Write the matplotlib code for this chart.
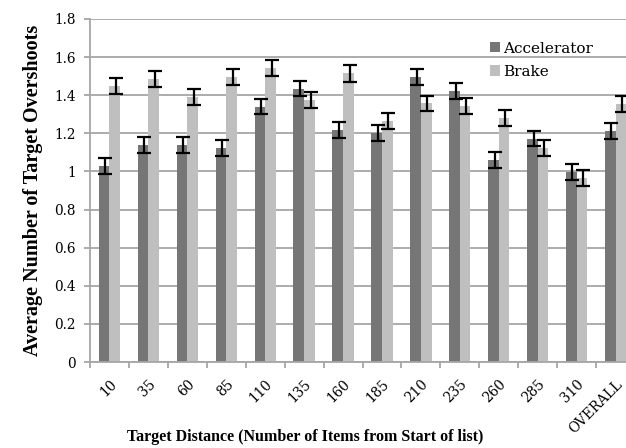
#!/usr/bin/env python3
# -*- coding: utf-8 -*-
"""
Average number of target overshoots per target distance,
accelerator vs brake, with error bars.
"""

import numpy as np
import matplotlib
matplotlib.use("Agg")
import matplotlib.pyplot as plt

# ------------------------------ data ---------------------------------------
categories = ["10", "35", "60", "85", "110", "135", "160", "185", "210",
              "235", "260", "285", "310", "OVERALL"]
accelerator = [1.03, 1.14, 1.14, 1.125, 1.34, 1.435, 1.218, 1.20, 1.497,
               1.422, 1.06, 1.172, 0.998, 1.212]
brake = [1.45, 1.484, 1.39, 1.497, 1.543, 1.375, 1.515, 1.264, 1.357,
         1.343, 1.282, 1.124, 0.963, 1.354]
accelerator_err = [0.041, 0.042, 0.042, 0.042, 0.041, 0.040, 0.041, 0.042,
                   0.042, 0.042, 0.042, 0.041, 0.041, 0.042]
brake_err = [0.042, 0.043, 0.042, 0.041, 0.042, 0.042, 0.043, 0.042, 0.041,
             0.042, 0.043, 0.042, 0.042, 0.042]

# ------------------------------ styling ------------------------------------
my_dpi = 100
dark_gray = "#767676"
light_gray = "#bfbfbf"
grid_gray = "#a6a6a6"
bar_w = 0.274

fig = plt.figure(figsize=(626/my_dpi, 448/my_dpi), dpi=my_dpi)
ax = fig.add_axes([90/626, 1-362/448, 545/626, 343/448])

x = np.arange(len(categories))
ax.bar(x - bar_w/2, accelerator, bar_w, color=dark_gray, label="Accelerator", zorder=2)
ax.bar(x + bar_w/2, brake, bar_w, color=light_gray, label="Brake", zorder=2)
ax.errorbar(x - bar_w/2 + 0.03, accelerator, yerr=accelerator_err, fmt="none",
            ecolor="black", elinewidth=1.6, capsize=4.8, capthick=1.6, zorder=3)
ax.errorbar(x + bar_w/2 + 0.03, brake, yerr=brake_err, fmt="none",
            ecolor="black", elinewidth=1.6, capsize=4.8, capthick=1.6, zorder=3)

ax.set_xlim(-0.5, len(categories) - 0.5)
ax.set_ylim(0, 1.8)
ax.set_yticks(np.arange(0, 1.81, 0.2))
ax.set_yticklabels(["0", "0.2", "0.4", "0.6", "0.8", "1", "1.2", "1.4", "1.6", "1.8"],
                   family="DejaVu Serif", fontsize=9.8)
ax.yaxis.grid(True, color=grid_gray, lw=1.3, zorder=0)
ax.set_axisbelow(True)

# category labels at the centres, tick marks at the boundaries
ax.set_xticks(x)
ax.set_xticklabels(categories, rotation=45, ha="right", va="top",
                   rotation_mode="anchor", family="DejaVu Serif", fontsize=9.8)
ax.set_xticks(np.arange(-0.5, len(categories)), minor=True)
ax.tick_params(axis="x", which="major", length=0, pad=11)
ax.tick_params(axis="x", which="minor", length=4, width=1.3, color=grid_gray)
ax.tick_params(axis="y", length=4, width=1.3, color=grid_gray, pad=6)

for s in ["top", "right"]:
    ax.spines[s].set_visible(False)
for s in ["left", "bottom"]:
    ax.spines[s].set_color(grid_gray)
    ax.spines[s].set_linewidth(1.3)

ax.set_ylabel("Average Number of Target Overshoots", family="Liberation Serif",
              fontweight="bold", fontsize=14.5, labelpad=8)
fig.text(305/626, 1-437/448, "Target Distance (Number of Items from Start of list)",
         family="Liberation Serif", fontweight="bold", fontsize=11.5,
         ha="center", va="center")

ax.legend(loc="upper left", bbox_to_anchor=(392/545, 1-15/343), frameon=False,
          prop={"family": "DejaVu Serif", "size": 11}, handlelength=0.65,
          handleheight=0.65, handletextpad=0.25, labelspacing=0.6, borderpad=0)

plt.savefig("out.png", dpi=my_dpi)
